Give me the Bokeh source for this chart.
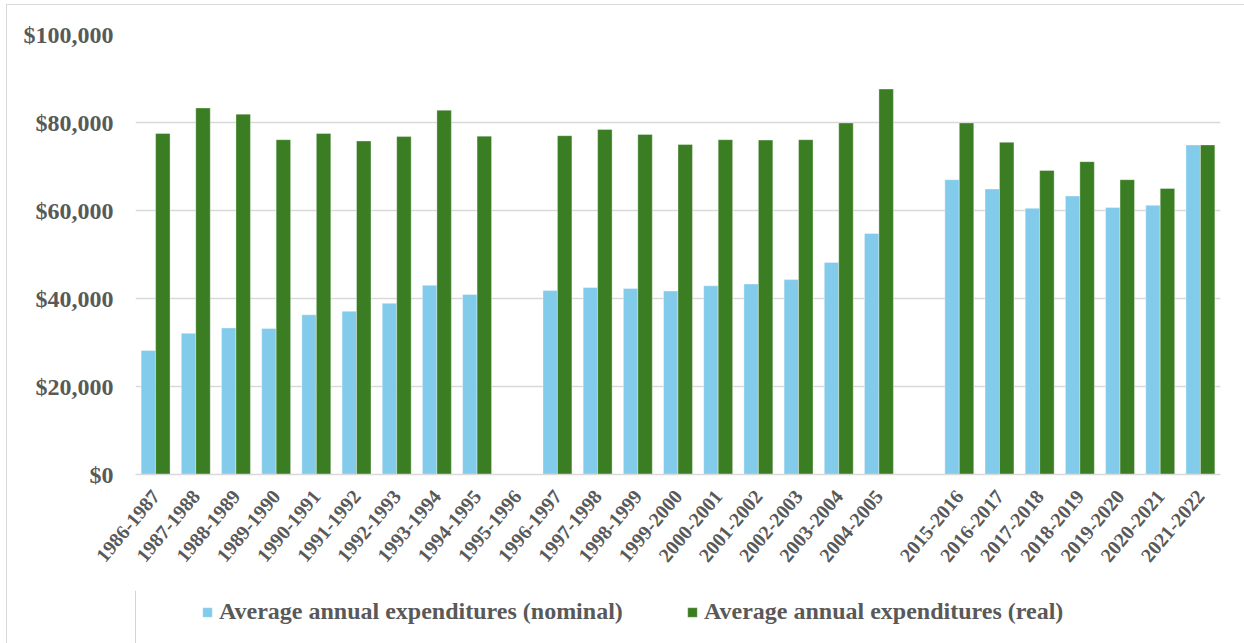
import math

from bokeh.embed import file_html
from bokeh.layouts import column
from bokeh.models import (ColumnDataSource, FactorRange, FixedTicker, InlineStyleSheet,
                          Legend, LegendItem, NumeralTickFormatter, Range1d)
from bokeh.plotting import figure
from bokeh.resources import INLINE
from bokeh.transform import dodge

# School years on the category axis; " " is an unlabeled spacer slot
periods = [
    "1986-1987", "1987-1988", "1988-1989", "1989-1990", "1990-1991",
    "1991-1992", "1992-1993", "1993-1994", "1994-1995", "1995-1996",
    "1996-1997", "1997-1998", "1998-1999", "1999-2000", "2000-2001",
    "2001-2002", "2002-2003", "2003-2004", "2004-2005", " ",
    "2015-2016", "2016-2017", "2017-2018", "2018-2019", "2019-2020",
    "2020-2021", "2021-2022",
]

# Average annual expenditures, dollars (None = no data for that year)
nominal = [
    28200, 32100, 33300, 33200, 36300, 37100, 38900, 43000, 40900, None,
    41800, 42500, 42300, 41700, 42900, 43300, 44300, 48200, 54800, None,
    67000, 64900, 60500, 63300, 60700, 61200, 74900,
]
real = [
    77500, 83300, 81900, 76100, 77500, 75800, 76800, 82800, 76900, None,
    77000, 78400, 77300, 75000, 76100, 76000, 76100, 79900, 87600, None,
    79900, 75500, 69100, 71100, 67000, 65000, 74900,
]

y_ticks = [0, 20000, 40000, 60000, 80000, 100000]

series_names = ["Average annual expenditures (nominal)",
                "Average annual expenditures (real)"]

NOMINAL_COLOR = "#83CBEB"
REAL_COLOR = "#3A7D22"
TEXT_COLOR = "#595959"
GRID_COLOR = "#D9D9D9"
FONT = "Liberation Serif"

CHART_H = 590
LEGEND_H = 53


def present(values):
    pairs = [(c, v) for c, v in zip(periods, values) if v is not None]
    return ColumnDataSource(dict(cat=[c for c, _ in pairs], val=[v for _, v in pairs]))


p = figure(
    x_range=FactorRange(*periods, range_padding=0),
    y_range=Range1d(0, 100000),
    width=1244, height=CHART_H,
    min_border_left=135, min_border_right=24,
    min_border_top=34, min_border_bottom=CHART_H - 474,
    output_backend="svg", toolbar_location=None,
)
p.x_range.factor_padding = 0
p.outline_line_color = None
p.background_fill_color = "white"
p.border_fill_color = "white"

# Thin light border along the top and left of the chart area
p.stylesheets = [InlineStyleSheet(css="""
:host::after {
  content: "";
  position: absolute;
  left: 6px; top: 4px; width: 1300px; height: 800px;
  border: 1.5px solid #D9D9D9;
  pointer-events: none;
  z-index: 5;
}
""")]

bar_w = 0.36
bar_style = dict(line_color="white", line_alpha=0.35, line_width=1)
p.vbar(x=dodge("cat", -bar_w / 2, range=p.x_range), top="val", width=bar_w,
       bottom=0, source=present(nominal), fill_color=NOMINAL_COLOR, **bar_style)
p.vbar(x=dodge("cat", bar_w / 2, range=p.x_range), top="val", width=bar_w,
       bottom=0, source=present(real), fill_color=REAL_COLOR, **bar_style)

# Grid
p.xgrid.grid_line_color = None
p.ygrid.ticker = FixedTicker(ticks=y_ticks)
p.ygrid.grid_line_color = GRID_COLOR
p.ygrid.grid_line_width = 1.5
p.ygrid.level = "underlay"

# Y axis
p.yaxis.ticker = FixedTicker(ticks=y_ticks)
p.yaxis.formatter = NumeralTickFormatter(format="$0,0")
p.yaxis.axis_line_color = None
p.yaxis.major_tick_line_color = None
p.yaxis.minor_tick_line_color = None
p.yaxis.major_tick_out = 0
p.yaxis.major_label_standoff = 22
p.yaxis.major_label_text_font = FONT
p.yaxis.major_label_text_font_style = "bold"
p.yaxis.major_label_text_font_size = "24px"
p.yaxis.major_label_text_color = TEXT_COLOR

# X axis
p.xaxis.axis_line_color = GRID_COLOR
p.xaxis.axis_line_width = 1.5
p.xaxis.major_tick_line_color = None
p.xaxis.minor_tick_line_color = None
p.xaxis.major_tick_out = 0
p.xaxis.major_label_orientation = math.radians(50)
p.xaxis.major_label_standoff = 18
p.xaxis.major_label_text_font = FONT
p.xaxis.major_label_text_font_style = "bold"
p.xaxis.major_label_text_font_size = "20px"
p.xaxis.major_label_text_color = TEXT_COLOR

# Legend strip under the chart (its frame lines up with the chart's frame)
leg = figure(
    width=1244, height=LEGEND_H,
    x_range=Range1d(0, 1), y_range=Range1d(0, 1),
    x_axis_type=None, y_axis_type=None,
    min_border=0, output_backend="svg", toolbar_location=None,
)
leg.outline_line_color = None
leg.grid.visible = False
leg.background_fill_color = "white"
leg.border_fill_color = "white"
leg.stylesheets = [InlineStyleSheet(css="""
:host::after {
  content: "";
  position: absolute;
  left: 6px; top: 0px; width: 0px; height: 100px;
  border-left: 1.5px solid #D9D9D9;
  pointer-events: none;
  z-index: 5;
}
""")]

# Key swatches: one off-range bar each, so the legend has a fill to draw
key_nom = leg.vbar(x=[-5], top=[1], width=0.1, fill_color=NOMINAL_COLOR, **bar_style)
key_real = leg.vbar(x=[-5], top=[1], width=0.1, fill_color=REAL_COLOR, **bar_style)

legend = Legend(
    items=[LegendItem(label=series_names[0], renderers=[key_nom]),
           LegendItem(label=series_names[1], renderers=[key_real])],
    orientation="horizontal",
    location=(66, 18),
    label_text_font=FONT, label_text_font_style="bold",
    label_text_font_size="24px", label_text_color=TEXT_COLOR,
    glyph_width=12, glyph_height=12, label_standoff=6,
    label_width=450, spacing=17,
    padding=0, margin=0, border_line_color=None, background_fill_alpha=0,
)
leg.add_layout(legend, "center")

open("out.html", "w").write(file_html(column(p, leg, spacing=0), INLINE))
